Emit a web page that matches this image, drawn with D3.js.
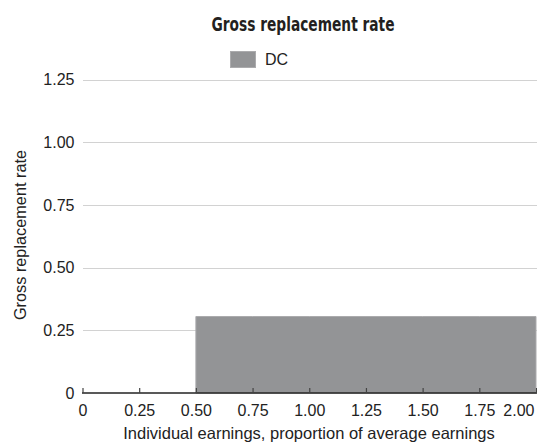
<!DOCTYPE html>
<html><head><meta charset="utf-8">
<script src="https://cdn.jsdelivr.net/npm/d3@7"></script>
<style>body{margin:0;background:#fff}svg{display:block}</style>
</head><body>
<svg id="c" width="537" height="442"></svg>
<script>
const earnings = [0, 0.25, 0.5, 0.75, 1.0, 1.25, 1.5, 1.75, 2.0];
const dcRate = [null, null, 0.305, 0.305, 0.305, 0.305, 0.305, 0.305, 0.305];
const xTicks = [0, 0.25, 0.5, 0.75, 1.0, 1.25, 1.5, 1.75, 2.0];
const xTickLabels = ["0", "0.25", "0.50", "0.75", "1.00", "1.25", "1.50", "1.75", "2.00"];
const yTicks = [0, 0.25, 0.5, 0.75, 1.0, 1.25];
const yTickLabels = ["0", "0.25", "0.50", "0.75", "1.00", "1.25"];
const seriesName = "DC";

const svg = d3.select("#c");
const font = "'Liberation Sans', Arial, sans-serif";
const x = d3.scaleLinear().domain([0, 2]).range([82.5, 536]);
const y = d3.scaleLinear().domain([0, 1.25]).range([393, 79.5]);

// grid
svg.append("g").selectAll("line").data(yTicks.filter(d => d > 0)).join("line")
  .attr("x1", 83).attr("x2", 537)
  .attr("y1", d => Math.round(y(d)) + 0.5).attr("y2", d => Math.round(y(d)) + 0.5)
  .attr("stroke", "#d2d2d2").attr("stroke-width", 1);

// area
const data = earnings.map((e, i) => ({x: e, v: dcRate[i]}));
const area = d3.area().defined(d => d.v != null)
  .x(d => x(d.x)).y0(y(0)).y1(d => y(d.v));
svg.append("path").datum(data).attr("d", area)
  .attr("fill", "#939496").attr("stroke", "#ababad").attr("stroke-width", 1);

// x axis
const xAxis = d3.axisBottom(x).tickValues(xTicks)
  .tickFormat((d, i) => xTickLabels[i]).tickSizeInner(-5).tickSizeOuter(0).tickPadding(12);
const gx = svg.append("g").attr("transform", `translate(0,${y(0)})`).call(xAxis);
gx.select(".domain").attr("stroke", "#222").attr("stroke-width", 1.5).attr("d", `M82,0H537`);
gx.selectAll(".tick line").attr("stroke", "#444").attr("stroke-width", 1.2);
gx.selectAll("text").attr("font-family", font).attr("font-size", 16).attr("fill", "#222");
gx.selectAll(".tick").filter(d => d === 2).select("text")
  .attr("text-anchor", "end").attr("x", -2);

// y axis labels
const yAxis = d3.axisLeft(y).tickValues(yTicks)
  .tickFormat((d, i) => yTickLabels[i]).tickSize(0).tickPadding(8.5);
const gy = svg.append("g").attr("transform", `translate(83,0)`).call(yAxis);
gy.select(".domain").remove();
gy.selectAll("text").attr("font-family", font).attr("font-size", 16).attr("fill", "#222");

// title
svg.append("text").attr("x", 303).attr("y", 31).attr("text-anchor", "middle")
  .attr("font-family", "'Liberation Sans Narrow', 'DejaVu Sans Condensed', sans-serif")
  .attr("font-weight", "bold").attr("font-size", 19)
  .attr("textLength", 183).attr("lengthAdjust", "spacingAndGlyphs")
  .attr("fill", "#231f20").text("Gross replacement rate");

// legend
svg.append("rect").attr("x", 230.5).attr("y", 51.5).attr("width", 25).attr("height", 16)
  .attr("fill", "#939496").attr("stroke", "#ababad");
svg.append("text").attr("x", 265).attr("y", 65).attr("font-family", font)
  .attr("font-size", 16).attr("fill", "#222").text(seriesName);

// axis titles
svg.append("text").attr("x", 309).attr("y", 439).attr("text-anchor", "middle")
  .attr("font-family", font).attr("font-size", 16.5).attr("fill", "#222")
  .text("Individual earnings, proportion of average earnings");
svg.append("text").attr("transform", "translate(26,235) rotate(-90)").attr("text-anchor", "middle")
  .attr("font-family", font).attr("font-size", 16.3).attr("fill", "#222")
  .text("Gross replacement rate");
</script>
</body></html>
